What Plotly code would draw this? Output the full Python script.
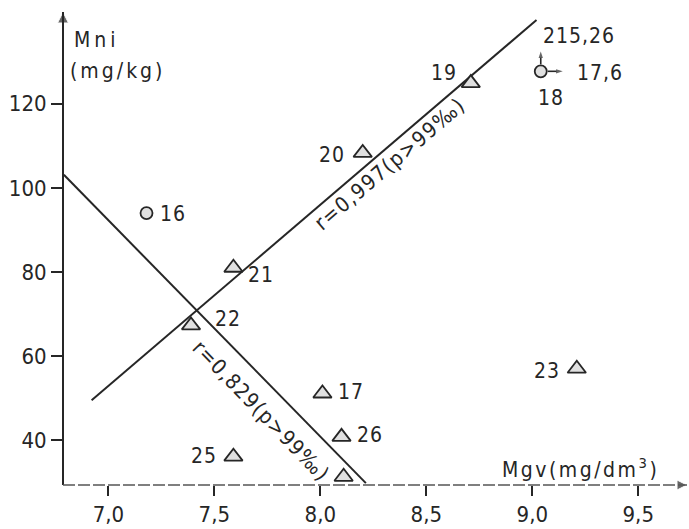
import plotly.graph_objects as go

# Samples plotted as triangles (Mg in water vs Mn in soil)
tri_labels = ["17", "19", "20", "21", "22", "23", "25", "26", ""]
tri_mgv = [8.01, 8.71, 8.20, 7.59, 7.39, 9.21, 7.59, 8.10, 8.11]
tri_mni = [51.1, 124.9, 108.3, 81.0, 67.3, 57.0, 36.1, 40.8, 31.3]

# Samples plotted as circles
circ_labels = ["16"]
circ_mgv = [7.18]
circ_mni = [94.0]

# Sample 18 lies off the scale; it is pinned at the upper right corner
off_label = "18"
off_mgv = 17.6
off_mni = 215.26
off_pin = (9.04, 127.7)

# Regression lines (end points) and their statistics
line_up_x = [6.921, 9.020]
line_up_y = [49.5, 139.9]
line_up_text = "r=0,997(p>99‰)"
line_dn_x = [6.79, 8.215]
line_dn_y = [103.1, 29.8]
line_dn_text = "r=0,829(p>99‰)"

x_ticks = [7.0, 7.5, 8.0, 8.5, 9.0, 9.5]
y_ticks = [40, 60, 80, 100, 120]
x_range = [6.786, 9.73]
y_range = [29.35, 141.8]

INK = "#262626"
FONT = "DejaVu Sans Condensed, DejaVu Sans, sans-serif"

# plot-area scale (pixels per data unit), used for arrow lengths
PX_PER_X = 624 / (x_range[1] - x_range[0])
PX_PER_Y = 475 / (y_range[1] - y_range[0])


def comma(v, nd=1):
    return f"{v:.{nd}f}".replace(".", ",")


def spaced(s, px):
    return f'<span style="letter-spacing:{px}px">{s}</span>'


fig = go.Figure()

# regression lines
for lx, ly in ((line_up_x, line_up_y), (line_dn_x, line_dn_y)):
    fig.add_trace(go.Scatter(x=lx, y=ly, mode="lines",
                             line=dict(color=INK, width=2), hoverinfo="skip"))

fig.add_trace(go.Scatter(
    x=tri_mgv, y=tri_mni, mode="markers",
    marker=dict(symbol="triangle-up", size=16, color="#e0e0e0",
                line=dict(color=INK, width=1.8)),
    hoverinfo="skip"))
fig.add_trace(go.Scatter(
    x=circ_mgv + [off_pin[0]], y=circ_mni + [off_pin[1]], mode="markers",
    marker=dict(symbol="circle", size=12, color="#e0e0e0",
                line=dict(color=INK, width=1.8)),
    hoverinfo="skip"))

# off-scale arrows for sample 18 (right: Mgv beyond scale, up: Mni beyond scale)
px, py = off_pin
fig.add_trace(go.Scatter(
    x=[px + 7 / PX_PER_X, px + 22 / PX_PER_X], y=[py, py], mode="lines+markers",
    line=dict(color=INK, width=1.6),
    marker=dict(symbol=["line-ns", "arrow"], size=[0, 7], angleref="previous",
                color=INK, line=dict(width=0)),
    hoverinfo="skip"))
fig.add_trace(go.Scatter(
    x=[px, px], y=[py + 7 / PX_PER_Y, py + 20 / PX_PER_Y], mode="lines+markers",
    line=dict(color=INK, width=1.6),
    marker=dict(symbol=["line-ns", "arrow"], size=[0, 7], angleref="previous",
                color=INK, line=dict(width=0)),
    hoverinfo="skip"))

# axis arrow heads
fig.add_trace(go.Scatter(
    x=[x_range[0], x_range[1]], y=[y_range[1], y_range[0]], mode="markers",
    marker=dict(symbol=["arrow-up", "arrow-right"], size=[11, 10], color=INK),
    cliponaxis=False, hoverinfo="skip"))

ann = []
# label placement around each mark: (anchor, xshift, yshift)
tri_place = {
    "17": ("left", 14, 2), "19": ("right", -12, 10), "20": ("right", -16, -2),
    "21": ("left", 13, -7), "22": ("left", 22, 6), "23": ("right", -15, -2),
    "25": ("right", -14, 1), "26": ("left", 13, 2),
}
lab_font = dict(family=FONT, size=21, color=INK)
for lab, x, y in zip(tri_labels, tri_mgv, tri_mni):
    if not lab:
        continue
    a, dx, dy = tri_place[lab]
    ann.append(dict(x=x, y=y, text=spaced(lab, 1), showarrow=False, xanchor=a,
                    yanchor="middle", xshift=dx, yshift=dy, font=lab_font))
for lab, x, y in zip(circ_labels, circ_mgv, circ_mni):
    ann.append(dict(x=x, y=y, text=spaced(lab, 1), showarrow=False, xanchor="left",
                    yanchor="middle", xshift=11, yshift=-1, font=lab_font))

ann.append(dict(x=px, y=py, text=spaced(comma(off_mni, 2), 1), showarrow=False,
                xanchor="left", yanchor="middle", xshift=0, yshift=35, font=lab_font))
ann.append(dict(x=px, y=py, text=spaced(comma(off_mgv, 1), 1), showarrow=False,
                xanchor="left", yanchor="middle", xshift=34, yshift=-2, font=lab_font))
ann.append(dict(x=px, y=py, text=spaced(off_label, 1), showarrow=False,
                xanchor="center", yanchor="middle", xshift=10, yshift=-27, font=lab_font))

# correlation notes along the lines
note_font = dict(family=FONT, size=21, color=INK)
ann.append(dict(x=8.33, y=105.6, text=spaced(line_up_text, 1.5), showarrow=False,
                textangle=-40.6, font=note_font))
ann.append(dict(x=7.72, y=47.0, text=spaced(line_dn_text, 1.2), showarrow=False,
                textangle=46, font=note_font))

# axis titles
title_font = dict(family=FONT, size=21, color=INK)
ann.append(dict(xref="paper", yref="paper", x=0.015, y=0.941, text=spaced("Mni", 4),
                showarrow=False, xanchor="left", yanchor="middle", font=title_font))
ann.append(dict(xref="paper", yref="paper", x=0.008, y=0.876, text=spaced("(mg/kg)", 3),
                showarrow=False, xanchor="left", yanchor="middle", font=title_font))
ann.append(dict(xref="paper", yref="paper", x=0.70, y=0.036,
                text=spaced("Mgv(mg/dm<sup>3</sup>)", 2.5),
                showarrow=False, xanchor="left", yanchor="middle", font=title_font))

shapes = [
    dict(type="line", xref="paper", yref="paper", x0=0, y0=0, x1=0, y1=1,
         line=dict(color=INK, width=2)),
    dict(type="line", xref="paper", yref="paper", x0=0, y0=0, x1=1, y1=0,
         line=dict(color="#555555", width=1.6, dash="12px,3px")),
]

fig.update_layout(
    width=689, height=529,
    margin=dict(l=63, r=2, t=12, b=42),
    paper_bgcolor="white", plot_bgcolor="white",
    showlegend=False,
    annotations=ann, shapes=shapes,
    xaxis=dict(range=x_range, tickvals=x_ticks,
               ticktext=[comma(v) for v in x_ticks],
               ticks="outside", ticklen=10, tickwidth=1.5, tickcolor=INK,
               showgrid=False, zeroline=False, showline=False,
               tickfont=dict(family=FONT, size=22, color=INK)),
    yaxis=dict(range=y_range, tickvals=y_ticks,
               ticktext=[str(v) for v in y_ticks],
               ticks="outside", ticklen=11, tickwidth=1.5, tickcolor=INK,
               showgrid=False, zeroline=False, showline=False,
               tickfont=dict(family=FONT, size=22, color=INK)),
)

fig.write_html("out.html")
